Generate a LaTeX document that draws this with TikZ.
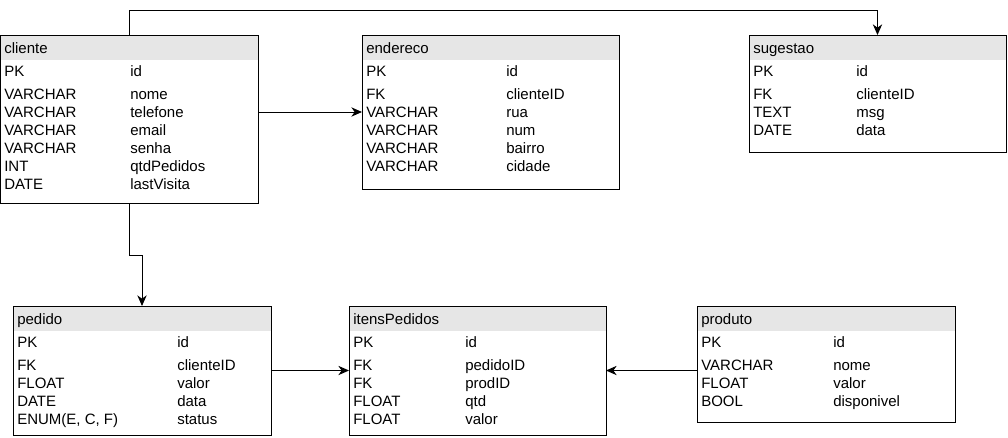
\documentclass[tikz,border=0pt]{standalone}
\usepackage{fontspec}
\setmainfont{Liberation Sans}
\usepackage{xcolor}
\usetikzlibrary{arrows.meta,backgrounds}
\definecolor{hdrgray}{HTML}{E6E6E6}
\tikzstyle{tbl} = [rectangle, draw, line width=0.75pt, inner sep=0pt, outer sep=0pt]
\tikzstyle{hdr} = [rectangle, fill=hdrgray, anchor=north west, inner sep=0pt,
                   outer sep=0pt, minimum height=18.75pt]
\tikzstyle{field} = [anchor=base west, inner sep=0pt, font=\fontsize{11.25}{13}\selectfont]
\tikzstyle{link} = [draw, line width=0.75pt, -{Stealth[length=8pt,width=7pt,inset=2.5pt]}]

\begin{document}
\begin{tikzpicture}[x=0.75pt, y=-0.75pt]
\useasboundingbox (0,0) rectangle (1008,437);

% tables
\node [tbl, minimum width=193.5pt, minimum height=126pt] (cliente) at (129.5,119) {};
\node [tbl, minimum width=192.75pt, minimum height=115.5pt] (endereco) at (490.5,112) {};
\node [tbl, minimum width=192.75pt, minimum height=87.75pt] (sugestao) at (877.5,93.5) {};
\node [tbl, minimum width=193.5pt, minimum height=96.75pt] (pedido) at (142,370.5) {};
\node [tbl, minimum width=192.75pt, minimum height=96.75pt] (itens) at (477.5,370.5) {};
\node [tbl, minimum width=193.5pt, minimum height=87pt] (produto) at (826,364) {};

% header bars
\begin{scope}[on background layer]
\node [hdr, minimum width=193.5pt] (cliente-hdr) at (cliente.north west) {};
\node [hdr, minimum width=192.75pt] (endereco-hdr) at (endereco.north west) {};
\node [hdr, minimum width=192.75pt] (sugestao-hdr) at (sugestao.north west) {};
\node [hdr, minimum width=193.5pt] (pedido-hdr) at (pedido.north west) {};
\node [hdr, minimum width=192.75pt] (itens-hdr) at (itens.north west) {};
\node [hdr, minimum width=193.5pt] (produto-hdr) at (produto.north west) {};
\end{scope}

% cliente
\node [field] (cliente-name) at (4,53) {cliente};
\node [field] (cliente-pk) at (4,76) {PK};
\node [field] (cliente-id) at (130,76) {id};
\foreach \ty/\nm [count=\i from 0] in {VARCHAR/nome, VARCHAR/telefone, VARCHAR/email,
    VARCHAR/senha, INT/qtdPedidos, DATE/lastVisita} {
  \node [field] (cliente-t\i) at (4,99+18*\i) {\ty};
  \node [field] (cliente-n\i) at (130,99+18*\i) {\nm};
}

% endereco
\node [field] (endereco-name) at (366,53) {endereco};
\node [field] (endereco-pk) at (366,76) {PK};
\node [field] (endereco-id) at (506,76) {id};
\foreach \ty/\nm [count=\i from 0] in {FK/clienteID, VARCHAR/rua, VARCHAR/num,
    VARCHAR/bairro, VARCHAR/cidade} {
  \node [field] (endereco-t\i) at (366,99+18*\i) {\ty};
  \node [field] (endereco-n\i) at (506,99+18*\i) {\nm};
}

% sugestao
\node [field] (sugestao-name) at (753,53) {sugestao};
\node [field] (sugestao-pk) at (753,76) {PK};
\node [field] (sugestao-id) at (856,76) {id};
\foreach \ty/\nm [count=\i from 0] in {FK/clienteID, TEXT/msg, DATE/data} {
  \node [field] (sugestao-t\i) at (753,99+18*\i) {\ty};
  \node [field] (sugestao-n\i) at (856,99+18*\i) {\nm};
}

% pedido
\node [field] (pedido-name) at (17,324) {pedido};
\node [field] (pedido-pk) at (17,347) {PK};
\node [field] (pedido-id) at (177,347) {id};
\foreach \ty/\nm [count=\i from 0] in {FK/clienteID, FLOAT/valor, DATE/data,
    {ENUM(E, C, F)}/status} {
  \node [field] (pedido-t\i) at (17,370+18*\i) {\ty};
  \node [field] (pedido-n\i) at (177,370+18*\i) {\nm};
}

% itensPedidos
\node [field] (itens-name) at (353,324) {itensPedidos};
\node [field] (itens-pk) at (353,347) {PK};
\node [field] (itens-id) at (465,347) {id};
\foreach \ty/\nm [count=\i from 0] in {FK/pedidoID, FK/prodID, FLOAT/qtd, FLOAT/valor} {
  \node [field] (itens-t\i) at (353,370+18*\i) {\ty};
  \node [field] (itens-n\i) at (465,370+18*\i) {\nm};
}

% produto
\node [field] (produto-name) at (701,324) {produto};
\node [field] (produto-pk) at (701,347) {PK};
\node [field] (produto-id) at (833,347) {id};
\foreach \ty/\nm [count=\i from 0] in {VARCHAR/nome, FLOAT/valor, BOOL/disponivel} {
  \node [field] (produto-t\i) at (701,370+18*\i) {\ty};
  \node [field] (produto-n\i) at (833,370+18*\i) {\nm};
}

% relations
\path [link] (cliente.north) -- ++(0,-25) -| (sugestao.north);
\path [link] (cliente.east |- endereco.west) -- (endereco.west);
\path [link] (cliente.south) -- ++(0,52) -| (pedido.north);
\path [link] (pedido.east) -- (itens.west);
\path [link] (produto.west |- itens.east) -- (itens.east);

\end{tikzpicture}
\end{document}
